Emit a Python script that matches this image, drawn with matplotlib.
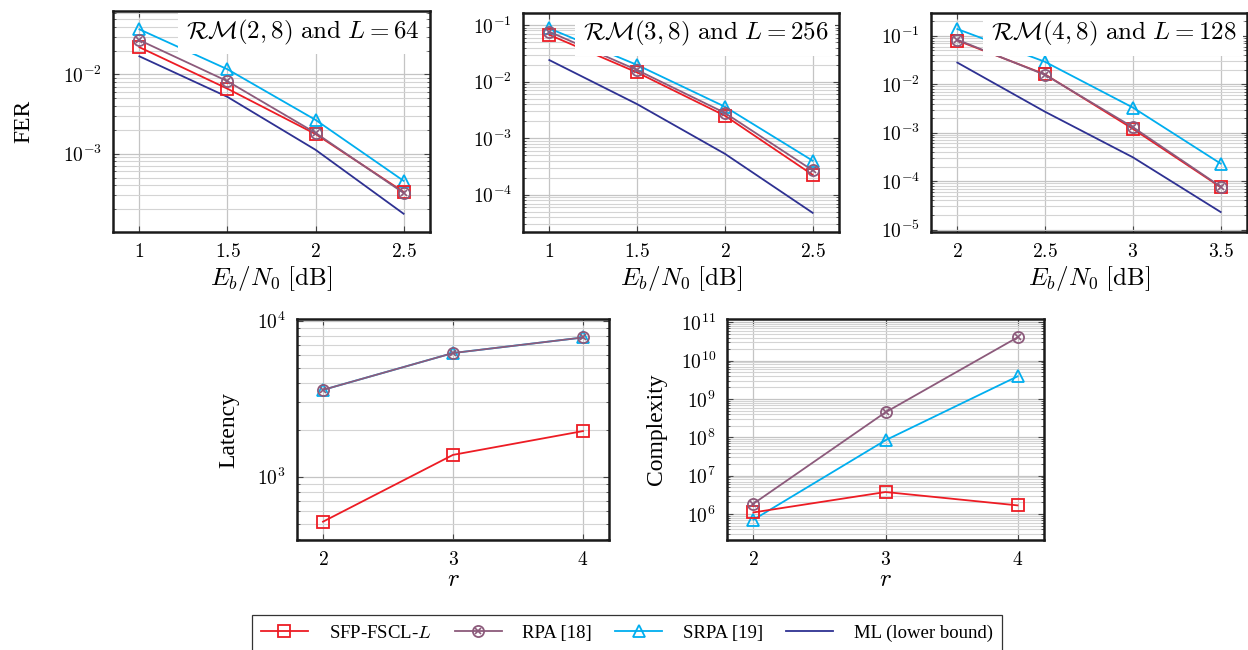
import numpy as np
import matplotlib
matplotlib.use('Agg')
import matplotlib.pyplot as plt
from matplotlib.ticker import LogLocator, FuncFormatter, NullFormatter, FixedLocator
from matplotlib.lines import Line2D

plt.rcParams['font.family'] = ['Liberation Serif', 'DejaVu Serif']
plt.rcParams['mathtext.fontset'] = 'cm'

# ---------------- data ----------------
snr_28 = [1.0, 1.5, 2.0, 2.5]
sfp_28 = [2.2e-2, 6.6e-3, 1.77e-3, 3.3e-4]
rpa_28 = [2.7e-2, 8.2e-3, 1.83e-3, 3.2e-4]
srpa_28 = [3.7e-2, 1.16e-2, 2.67e-3, 4.55e-4]
ml_28 = [1.69e-2, 5.2e-3, 1.12e-3, 1.75e-4]

snr_38 = [1.0, 1.5, 2.0, 2.5]
sfp_38 = [6.7e-2, 1.45e-2, 2.5e-3, 2.25e-4]
rpa_38 = [7.6e-2, 1.6e-2, 2.8e-3, 2.7e-4]
srpa_38 = [8.7e-2, 1.97e-2, 3.6e-3, 4.0e-4]
ml_38 = [2.4e-2, 4.0e-3, 5.3e-4, 4.8e-5]

snr_48 = [2.0, 2.5, 3.0, 3.5]
sfp_48 = [8.0e-2, 1.6e-2, 1.2e-3, 7.5e-5]
rpa_48 = [8.3e-2, 1.56e-2, 1.3e-3, 7.7e-5]
srpa_48 = [1.38e-1, 2.9e-2, 3.3e-3, 2.3e-4]
ml_48 = [2.8e-2, 2.7e-3, 3.1e-4, 2.3e-5]

r_vals = [2, 3, 4]
lat_sfp = [515, 1380, 1960]
lat_rpa = [3600, 6200, 7800]
lat_srpa = [3600, 6200, 7800]
cplx_sfp = [1.1e6, 3.75e6, 1.68e6]
cplx_rpa = [1.86e6, 4.5e8, 4.06e10]
cplx_srpa = [7.1e5, 8.4e7, 3.9e9]

titles = [r'$\mathcal{RM}(2,8)\ \mathrm{and}\ L=64$',
          r'$\mathcal{RM}(3,8)\ \mathrm{and}\ L=256$',
          r'$\mathcal{RM}(4,8)\ \mathrm{and}\ L=128$']
legend_labels = ['SFP-FSCL-$L$', 'RPA [18]', 'SRPA [19]', 'ML (lower bound)']

# ---------------- style ----------------
C_SFP = '#ED1C24'
C_RPA = '#8C5A7B'
C_SRPA = '#00AEEF'
C_ML = '#2E3192'
LW = 1.3
MS = 8

W, H = 1248, 650
fig = plt.figure(figsize=(W / 100, H / 100), dpi=100)


def rect(l, r, t, b):
    return [l / W, 1 - b / H, (r - l) / W, (b - t) / H]


def style_axes(ax):
    ax.set_yscale('log')
    ax.yaxis.set_major_locator(LogLocator(base=10, numticks=30))
    ax.yaxis.set_minor_locator(LogLocator(base=10, subs=np.arange(2, 10), numticks=300))
    ax.yaxis.set_major_formatter(FuncFormatter(lambda v, p: r'$10^{%d}$' % int(round(np.log10(v)))))
    ax.yaxis.set_minor_formatter(NullFormatter())
    ax.grid(True, which='major', color='#c4c4c4', lw=0.9)
    ax.grid(True, which='minor', axis='y', color='#d4d4d4', lw=0.8)
    ax.tick_params(which='both', direction='in', left=True, right=True, top=True, bottom=True,
                   labelsize=14, color='#444444')
    ax.tick_params(which='major', length=4, width=0.8)
    ax.tick_params(which='minor', length=2.5, width=0.6)
    ax.tick_params(axis='x', which='major', pad=8)
    ax.tick_params(axis='y', which='major', pad=8)
    ax.set_axisbelow(True)
    for s in ax.spines.values():
        s.set_linewidth(1.8)
        s.set_color('#1a1a1a')
        s.set_zorder(10)


def xfmt(v, p):
    s = ('%g' % v)
    return r'$%s$' % s


def plot_set(ax, x, sfp, rpa, srpa, ml=None):
    if ml is not None:
        ax.plot(x, ml, color=C_ML, lw=LW, zorder=3)
    ax.plot(x, srpa, color=C_SRPA, lw=LW, marker='^', ms=MS, mfc='none', mew=1.3, zorder=4)
    ax.plot(x, rpa, color=C_RPA, lw=LW, marker='o', ms=MS, mfc='none', mew=1.3, zorder=5)
    ax.plot(x, rpa, color=C_RPA, lw=0, marker='x', ms=MS * 0.55, mew=1.2, zorder=5)
    ax.plot(x, sfp, color=C_SFP, lw=LW, marker='s', ms=MS, mfc='none', mew=1.3, zorder=4.5)


# ---------------- top row ----------------
top_specs = [
    (rect(113, 430, 11, 232), snr_28, sfp_28, rpa_28, srpa_28, ml_28, (1.03e-4, 6.3e-2), (0.85, 2.65)),
    (rect(523, 839, 12.7, 232), snr_38, sfp_38, rpa_38, srpa_38, ml_38, (2.2e-5, 0.165), (0.85, 2.65)),
    (rect(931, 1247, 12.7, 232), snr_48, sfp_48, rpa_48, srpa_48, ml_48, (8.9e-6, 0.30), (1.85, 3.65)),
]
for i, (rc, x, a, b, c, d, yl, xl) in enumerate(top_specs):
    ax = fig.add_axes(rc)
    style_axes(ax)
    plot_set(ax, x, a, b, c, d)
    ax.set_xlim(*xl)
    ax.set_ylim(*yl)
    ax.xaxis.set_major_locator(FixedLocator(x))
    ax.xaxis.set_major_formatter(FuncFormatter(xfmt))
    ax.set_xlabel(r'$E_b/N_0\ \mathrm{[dB]}$', fontsize=18)
    ax.xaxis.set_label_coords(0.5, -0.145)
    ax.text(0.965, 0.905, titles[i], transform=ax.transAxes, ha='right', va='center',
            fontsize=18, zorder=8,
            bbox=dict(boxstyle='square,pad=0.3', facecolor='white', edgecolor='none'))
    if i == 0:
        ax.set_ylabel('FER', fontsize=17)
        ax.yaxis.set_label_coords(-0.247, 0.5)

# ---------------- bottom row ----------------
axl = fig.add_axes(rect(297, 609, 319.3, 540))
style_axes(axl)
plot_set(axl, r_vals, lat_sfp, lat_rpa, lat_srpa)
axl.set_xlim(1.8, 4.2)
axl.set_ylim(393, 1.02e4)
axl.xaxis.set_major_locator(FixedLocator(r_vals))
axl.xaxis.set_major_formatter(FuncFormatter(xfmt))
axl.set_xlabel(r'$r$', fontsize=18)
axl.xaxis.set_label_coords(0.5, -0.13)
axl.set_ylabel('Latency', fontsize=17)
axl.yaxis.set_label_coords(-0.185, 0.5)

axr = fig.add_axes(rect(727, 1044, 319.3, 540))
style_axes(axr)
plot_set(axr, r_vals, cplx_sfp, cplx_rpa, cplx_srpa)
axr.set_xlim(1.8, 4.2)
axr.set_ylim(2.1e5, 1.2e11)
axr.xaxis.set_major_locator(FixedLocator(r_vals))
axr.xaxis.set_major_formatter(FuncFormatter(xfmt))
axr.set_xlabel(r'$r$', fontsize=18)
axr.xaxis.set_label_coords(0.5, -0.13)
axr.set_ylabel('Complexity', fontsize=17)
axr.yaxis.set_label_coords(-0.19, 0.5)

# ---------------- legend ----------------
h_sfp = Line2D([], [], color=C_SFP, lw=LW, marker='s', ms=MS, mfc='none', mew=1.3)
h_rpa = (Line2D([], [], color=C_RPA, lw=LW, marker='o', ms=MS, mfc='none', mew=1.3),
         Line2D([], [], color=C_RPA, lw=0, marker='x', ms=MS * 0.55, mew=1.2))
h_srpa = Line2D([], [], color=C_SRPA, lw=LW, marker='^', ms=MS, mfc='none', mew=1.3)
h_ml = Line2D([], [], color=C_ML, lw=LW)
leg = fig.legend([h_sfp, h_rpa, h_srpa, h_ml], legend_labels, loc='upper center',
                 bbox_to_anchor=(627 / W, 1 - 606 / H), ncol=4, fontsize=13.5,
                 frameon=True, fancybox=False, edgecolor='#333333', framealpha=1,
                 handlelength=2.5, columnspacing=1.25, handletextpad=1.1,
                 borderpad=0.5)
leg.get_frame().set_linewidth(0.9)

fig.savefig('out.png', dpi=100)
